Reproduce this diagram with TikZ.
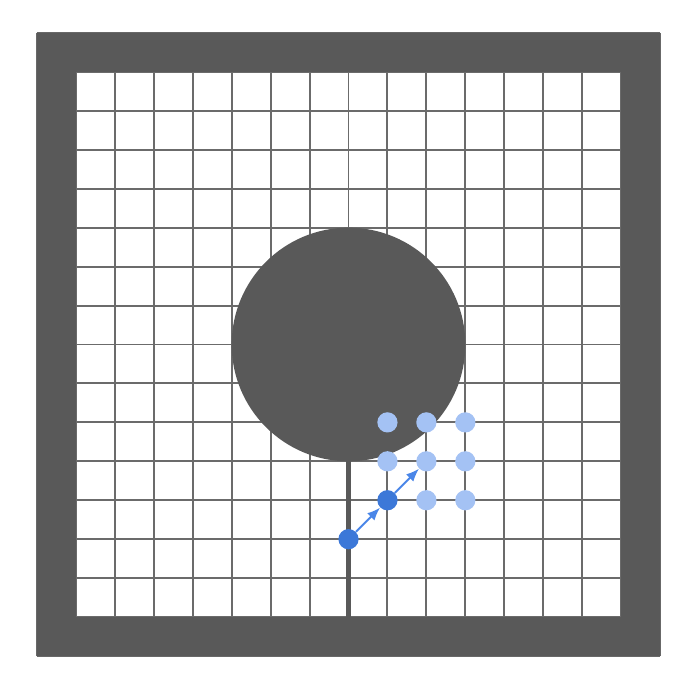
\documentclass[tikz,border=0pt]{standalone}
\usepackage{tikz}
\usetikzlibrary{arrows.meta, positioning}
\definecolor{wallgray}{HTML}{595959}
\definecolor{gridgray}{HTML}{6B6B6B}
\definecolor{stepblue}{HTML}{3C78D8}
\definecolor{nextblue}{HTML}{A4C2F4}
\definecolor{arrowblue}{HTML}{4A86E8}
\begin{document}
\begin{tikzpicture}[
  visited/.style={circle, fill=stepblue, inner sep=0pt, minimum size=0.52cm},
  option/.style={circle, fill=nextblue, inner sep=0pt, minimum size=0.52cm},
  move/.style={arrowblue, line width=1.4pt, -{Latex[length=9.5pt, width=7.5pt]}}]
  \useasboundingbox (-0.95,-0.873) rectangle (17.027,16.847);
  % Grid
  \draw[gridgray, line width=1.4pt] (0,0) grid (16,16);
  % Walls and obstacle
  \fill[wallgray, even odd rule] (0,0) rectangle (16,16) (1,1) rectangle (15,15);
  \fill[wallgray] (8,8) circle (3);
  \draw[wallgray, line width=3pt] (8,5) -- (8,1);
  % Candidate next positions
  \foreach \x/\y in {9/6, 10/6, 11/6, 9/5, 11/5, 10/4, 11/4}
    \node[option] at (\x,\y) {};
  \node[option] (p2) at (10,5) {};
  % Path taken
  \node[visited] (p0) at (8,3) {};
  \node[visited] (p1) at (9,4) {};
  \draw[move] (p0) -- (p1);
  \draw[move] (p1) -- (p2);
\end{tikzpicture}
\end{document}
